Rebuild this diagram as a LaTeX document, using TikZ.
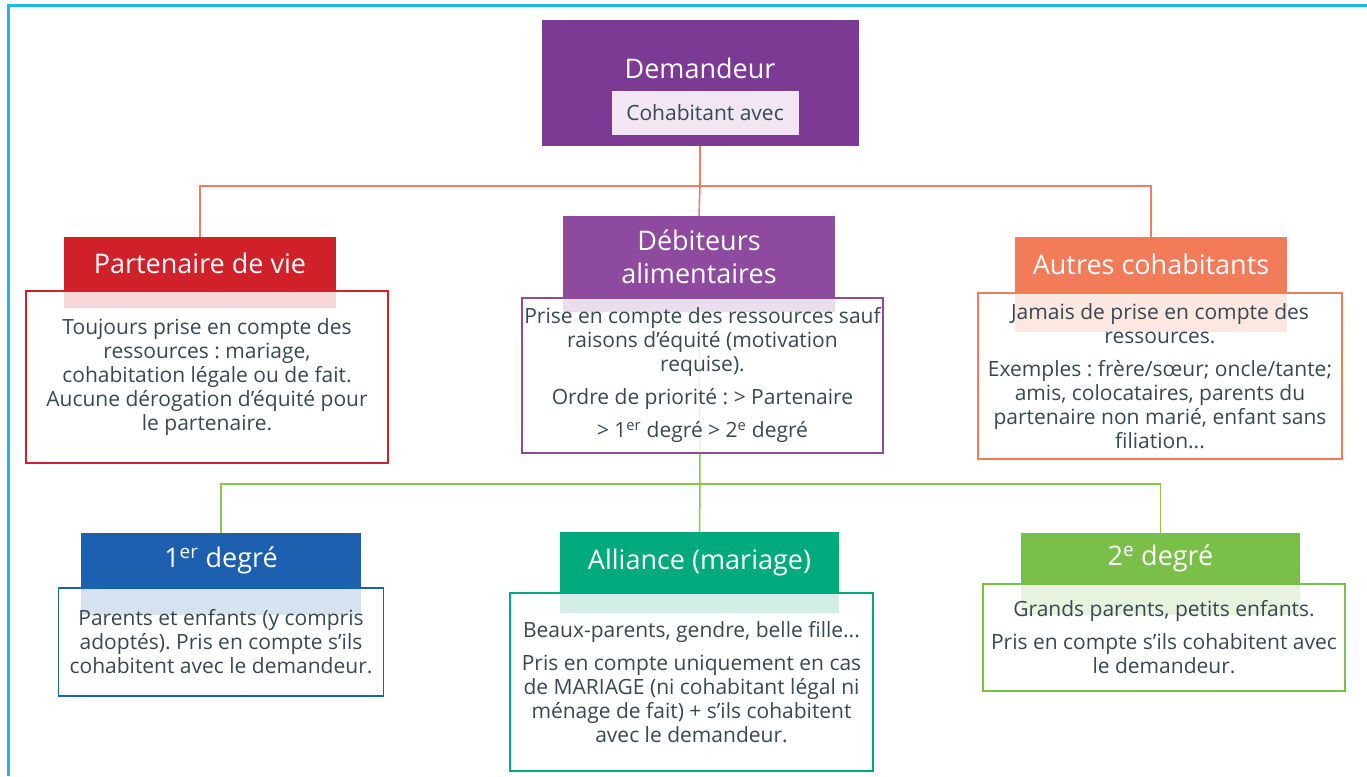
\documentclass[tikz,border=0pt]{standalone}
\usepackage{fontspec}
\setmainfont{Open Sans}
\usepackage{tikz}
\usetikzlibrary{positioning}
\frenchspacing

\definecolor{framecyan}{RGB}{30,182,236}
\definecolor{dempurple}{RGB}{124,58,148}
\definecolor{demlight}{RGB}{241,230,242}
\definecolor{debtpurple}{RGB}{142,74,158}
\definecolor{partnerred}{RGB}{208,32,42}
\definecolor{othersorange}{RGB}{242,124,90}
\definecolor{firstblue}{RGB}{30,96,176}
\definecolor{alliancegreen}{RGB}{0,170,125}
\definecolor{secondgreen}{RGB}{122,192,72}
\definecolor{txtgray}{RGB}{56,72,82}
\definecolor{linkorange}{RGB}{240,125,95}
\definecolor{linkgreen}{RGB}{140,200,70}

\begin{document}
\begin{tikzpicture}[x=1pt, y=-1pt,
    % Styles
    hdr/.style={text=white, font=\fontsize{27}{33}\selectfont, inner sep=0pt, align=center},
    bodybox/.style={draw, line width=1.5pt, fill=white, fill opacity=0.82, text opacity=1,
                    text=txtgray, font=\fontsize{21}{24}\selectfont, align=center, inner sep=0pt},
    orangeline/.style={draw=linkorange, line width=1.5pt},
    greenline/.style={draw=linkgreen, line width=1.5pt},
    frameline/.style={draw=framecyan, line width=3pt}
]
    \useasboundingbox (0,0) rectangle (1367,776);

    % Page frame (left and top only)
    \draw[frameline] (8,776) -- (8,6) -- (1367,6);

    % Demandeur
    \node[fill=dempurple, minimum width=317pt, minimum height=126pt] (dem) at (700,83) {};
    \node[text=white, font=\fontsize{27}{30}\selectfont] (demtitle) at (700,68) {Demandeur};
    \node[fill=demlight, text=txtgray, font=\fontsize{21}{24}\selectfont,
          minimum width=187pt, minimum height=44pt] (cohab) at (705,113) {Cohabitant avec};

    % Headers, first row
    \node[hdr, fill=partnerred, minimum width=272pt, minimum height=53pt] (partnerhdr) at (200,263.5) {Partenaire de vie};
    \node[hdr, fill=debtpurple, minimum width=272pt, minimum height=81pt] (debthdr) at (699,256.5) {Débiteurs\\alimentaires};
    \node[hdr, fill=othersorange, minimum width=272pt, minimum height=55pt] (othershdr) at (1151,264.5) {Autres cohabitants};

    % Headers, second row
    \node[hdr, fill=firstblue, minimum width=280pt, minimum height=54pt] (firsthdr) at (221,560) {1\textsuperscript{er} degré};
    \node[hdr, fill=alliancegreen, minimum width=279pt, minimum height=60pt] (alliancehdr) at (699.5,562) {Alliance (mariage)};
    \node[hdr, fill=secondgreen, minimum width=279pt, minimum height=50pt] (secondhdr) at (1160.5,558) {2\textsuperscript{e} degré};

    % Header tails under the text boxes
    \fill[partnerred] (partnerhdr.south west) rectangle ([yshift=-18pt]partnerhdr.south east);
    \fill[debtpurple] (debthdr.south west) rectangle ([yshift=-15pt]debthdr.south east);
    \fill[othersorange] (othershdr.south west) rectangle ([yshift=-40pt]othershdr.south east);
    \fill[firstblue] (firsthdr.south west) rectangle ([yshift=-28pt]firsthdr.south east);
    \fill[alliancegreen] (alliancehdr.south west) rectangle ([yshift=-21pt]alliancehdr.south east);
    \fill[secondgreen] (secondhdr.south west) rectangle ([yshift=-32pt]secondhdr.south east);

    % Connectors
    \coordinate (obar) at (700,186);
    \draw[orangeline] (dem.south) -- (obar);
    \draw[orangeline] (partnerhdr.north) -- (partnerhdr.north |- obar) -- (othershdr.north |- obar) -- (othershdr.north);
    \draw[orangeline] (obar) -- (debthdr.north);
    \coordinate (gbar) at (700,484);
    \draw[greenline] ([yshift=-15pt]debthdr.south) -- (gbar);
    \draw[greenline] (firsthdr.north) -- (firsthdr.north |- gbar) -- (secondhdr.north |- gbar) -- (secondhdr.north);
    \draw[greenline] (gbar) -- (alliancehdr.north);

    % Text boxes, first row
    \node[bodybox, draw=partnerred, minimum width=362pt, minimum height=172pt, below=0pt of partnerhdr, xshift=7pt] (partnerbody)
        {Toujours prise en compte des\\ressources : mariage,\\cohabitation légale ou de fait.\\Aucune dérogation d’équité pour\\le partenaire.};
    \node[bodybox, draw=debtpurple, minimum width=361pt, minimum height=155pt, below=0pt of debthdr, xshift=3.5pt] (debtbody)
        {Prise en compte des ressources sauf\\raisons d’équité (motivation\\requise).\\[9pt]Ordre de priorité : > Partenaire\\[9pt]> 1\textsuperscript{er} degré > 2\textsuperscript{e} degré};
    \node[bodybox, draw=othersorange, minimum width=364pt, minimum height=166pt, below=0pt of othershdr, xshift=9pt] (othersbody)
        {Jamais de prise en compte des\\ressources.\\[9pt]Exemples : frère/sœur; oncle/tante;\\amis, colocataires, parents du\\partenaire non marié, enfant sans\\filiation...};

    % Text boxes, second row
    \node[bodybox, draw=firstblue, minimum width=325pt, minimum height=108pt, below=0pt of firsthdr] (firstbody)
        {Parents et enfants (y compris\\adoptés). Pris en compte s’ils\\cohabitent avec le demandeur.};
    \node[bodybox, draw=alliancegreen, minimum width=363pt, minimum height=178pt, below=0pt of alliancehdr, xshift=-8pt] (alliancebody)
        {Beaux-parents, gendre, belle fille...\\[9pt]Pris en compte uniquement en cas\\de MARIAGE (ni cohabitant légal ni\\ménage de fait) + s’ils cohabitent\\avec le demandeur.};
    \node[bodybox, draw=secondgreen, minimum width=362pt, minimum height=107pt, below=0pt of secondhdr, xshift=3.5pt] (secondbody)
        {Grands parents, petits enfants.\\[9pt]Pris en compte s’ils cohabitent avec\\le demandeur.};
\end{tikzpicture}
\end{document}
